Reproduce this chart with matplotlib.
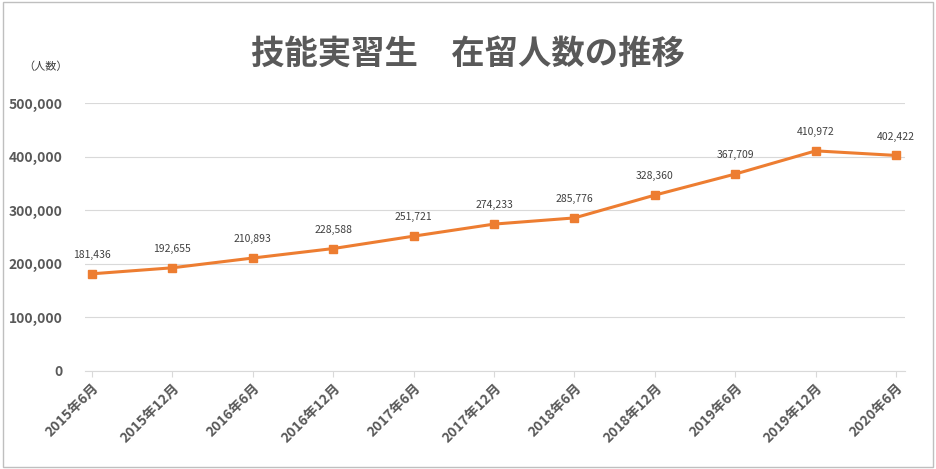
import matplotlib.pyplot as plt
from matplotlib.ticker import FuncFormatter

plt.rcParams['font.family'] = 'Noto Sans CJK JP'

periods = ['2015年6月', '2015年12月', '2016年6月', '2016年12月', '2017年6月', '2017年12月',
           '2018年6月', '2018年12月', '2019年6月', '2019年12月', '2020年6月']
counts = [181436, 192655, 210893, 228588, 251721, 274233, 285776, 328360, 367709, 410972, 402422]

fig = plt.figure(figsize=(9.36, 4.69), dpi=100)
ax = fig.add_axes([0.0908, 0.209, 0.876, 0.571])

x = list(range(len(periods)))
ax.plot(x, counts, color='#ED7D31', lw=2.2, marker='s', ms=6, zorder=3)
for xi, v in zip(x, counts):
    ax.annotate(f'{v:,}', (xi, v), xytext=(0, 10), textcoords='offset points',
                ha='center', va='bottom', fontsize=7.5, color='#404040')

ax.set_ylim(0, 500000)
ax.set_xlim(-0.087, 10.11)
ax.set_yticks(range(0, 500001, 100000))
ax.yaxis.set_major_formatter(FuncFormatter(lambda v, p: f'{int(v):,}'))
ax.grid(axis='y', color='#D9D9D9', lw=0.8)
ax.set_axisbelow(True)
ax.set_xticks(x)
ax.set_xticklabels(periods, rotation=45, ha='right', rotation_mode='anchor')
for lab in ax.get_xticklabels() + ax.get_yticklabels():
    lab.set_fontweight('bold')
    lab.set_color('#595959')
    lab.set_fontsize(10)
ax.tick_params(axis='y', length=0, pad=16)
ax.tick_params(axis='x', length=4, color='#D9D9D9', pad=3)
for s in ['top', 'right', 'left']:
    ax.spines[s].set_visible(False)
ax.spines['bottom'].set_color('#D9D9D9')

fig.text(0.5, 0.885, '技能実習生　在留人数の推移', ha='center', va='center',
         fontsize=24, fontweight='bold', color='#595959')
fig.text(0.025, 0.857, '（人数）', ha='left', va='center', fontsize=8, color='#404040')

fig.patches.append(plt.Rectangle((0.003, 0.005), 0.994, 0.99, transform=fig.transFigure,
                                 fill=False, edgecolor='#BFBFBF', lw=1))
fig.savefig('out.png', dpi=100)
